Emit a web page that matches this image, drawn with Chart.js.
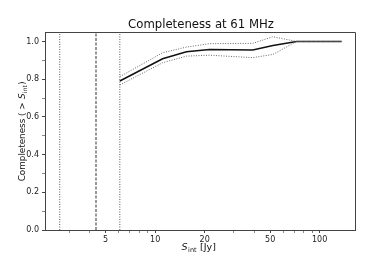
<!DOCTYPE html>
<html>
<head>
<meta charset="utf-8">
<script src="https://cdn.jsdelivr.net/npm/chart.js@4"></script>
<style>
  html, body { margin: 0; padding: 0; background: #fff; }
  #wrap { width: 374px; height: 272px; }
</style>
</head>
<body>
<div id="wrap"><canvas id="chart"></canvas></div>
<script>
// flux bins (Jy) and completeness curves
const fluxBins = [6.1, 11.1, 15.5, 21.4, 39.2, 52.0, 72.4, 136];
const completeness = [0.790, 0.908, 0.945, 0.957, 0.954, 0.978, 1.0, 1.0];
const upperBound = [0.813, 0.940, 0.970, 0.988, 0.990, 1.025, 1.0, 1.0];
const lowerBound = [0.769, 0.887, 0.922, 0.927, 0.914, 0.931, 1.0, 1.0];

// vertical reference lines (Jy)
const dottedLines = [2.63, 6.1];
const dashedLines = [4.37];

const xMajorTicks = [5, 10, 20, 50, 100];
const xMinorTicks = [3, 4, 6, 7, 8, 9, 30, 40, 60, 70, 80, 90];
const yMajorTicks = [0, 0.2, 0.4, 0.6, 0.8, 1.0];
const yMinorTicks = [0.1, 0.3, 0.5, 0.7, 0.9];

const X_MIN = 2.14, X_MAX = 164, Y_MAX = 1.05;

function series(ys) {
  return fluxBins.map((x, i) => ({ x: x, y: ys[i] }));
}

function vline(x, dash, color) {
  return {
    data: [{ x: x, y: 0 }, { x: x, y: Y_MAX }],
    borderColor: color,
    borderWidth: 1,
    borderDash: dash,
    pointRadius: 0
  };
}

const datasets = [];
dottedLines.forEach(x => datasets.push(vline(x, [1, 1.5], '#555')));
dashedLines.forEach(x => datasets.push(vline(x, [3, 1.5], '#333')));
datasets.push({ data: series(upperBound), borderColor: '#666', borderWidth: 1, borderDash: [1, 1.5], pointRadius: 0 });
datasets.push({ data: series(lowerBound), borderColor: '#666', borderWidth: 1, borderDash: [1, 1.5], pointRadius: 0 });
datasets.push({ data: series(completeness), borderColor: '#111', borderWidth: 1.5, pointRadius: 0 });

// frame, title and axis labels with subscripts
const labelPlugin = {
  id: 'labels',
  afterDraw(chart) {
    const ctx = chart.ctx;
    const area = chart.chartArea;
    ctx.save();
    ctx.strokeStyle = '#444';
    ctx.lineWidth = 1;
    ctx.beginPath();
    ctx.moveTo(area.left, area.top + 0.5);
    ctx.lineTo(area.right + 0.5, area.top + 0.5);
    ctx.lineTo(area.right + 0.5, area.bottom);
    ctx.stroke();

    ctx.fillStyle = '#111';
    ctx.textBaseline = 'alphabetic';

    ctx.font = '11.7px "DejaVu Sans"';
    ctx.textAlign = 'center';
    ctx.fillText('Completeness at 61 MHz', (area.left + area.right) / 2 + 1, 28);

    // x label: S_int [Jy]
    const parts = [
      ['italic 9.5px "DejaVu Sans"', 'S', 0],
      ['6.5px "DejaVu Sans"', 'int', 2],
      ['9.5px "DejaVu Sans"', ' [Jy]', 0]
    ];
    drawParts(ctx, parts, (area.left + area.right) / 2 - 1, 250);

    // y label
    ctx.translate(25, (area.top + area.bottom) / 2);
    ctx.rotate(-Math.PI / 2);
    const yparts = [
      ['8.8px "DejaVu Sans"', 'Completeness ( > ', 0],
      ['italic 8.8px "DejaVu Sans"', 'S', 0],
      ['6px "DejaVu Sans"', 'int', 2],
      ['8.8px "DejaVu Sans"', ')', 0]
    ];
    drawParts(ctx, yparts, 0, 0);
    ctx.restore();
  }
};

function drawParts(ctx, parts, cx, y) {
  let total = 0;
  parts.forEach(p => { ctx.font = p[0]; total += ctx.measureText(p[1]).width + 0.5; });
  let x = cx - total / 2;
  ctx.textAlign = 'left';
  parts.forEach(p => {
    ctx.font = p[0];
    ctx.fillText(p[1], x, y + p[2]);
    x += ctx.measureText(p[1]).width + 0.5;
  });
}

new Chart(document.getElementById('chart'), {
  type: 'line',
  data: { datasets: datasets },
  options: {
    responsive: true,
    maintainAspectRatio: false,
    animation: false,
    events: [],
    layout: { padding: { top: 32, right: 19, left: 0, bottom: 0 } },
    plugins: { legend: { display: false }, tooltip: { enabled: false } },
    scales: {
      x: {
        type: 'logarithmic',
        min: X_MIN,
        max: X_MAX,
        afterBuildTicks(scale) {
          scale.ticks = xMajorTicks.concat(xMinorTicks).map(v => ({ value: v }));
        },
        afterFit(scale) { scale.height = 42; },
        border: { color: '#444', width: 1 },
        grid: {
          drawOnChartArea: false,
          drawTicks: true,
          tickLength: 3,
          tickColor: ctx => xMajorTicks.includes(ctx.tick && ctx.tick.value) ? '#444' : '#888'
        },
        ticks: {
          autoSkip: false,
          maxRotation: 0,
          padding: 2,
          color: '#222',
          font: { family: 'DejaVu Sans', size: 8 },
          callback: v => xMajorTicks.includes(v) ? String(v) : ''
        }
      },
      y: {
        min: 0,
        max: Y_MAX,
        afterBuildTicks(scale) {
          scale.ticks = yMajorTicks.concat(yMinorTicks).map(v => ({ value: v }));
        },
        afterFit(scale) { scale.width = 45; },
        border: { color: '#444', width: 1 },
        grid: {
          drawOnChartArea: false,
          drawTicks: true,
          tickLength: 3,
          tickColor: ctx => yMajorTicks.includes(ctx.tick && ctx.tick.value) ? '#444' : '#888'
        },
        ticks: {
          autoSkip: false,
          padding: 3,
          color: '#222',
          font: { family: 'DejaVu Sans', size: 8 },
          callback: v => yMajorTicks.includes(v) ? v.toFixed(1) : ''
        }
      }
    }
  },
  plugins: [labelPlugin]
});
</script>
</body>
</html>
